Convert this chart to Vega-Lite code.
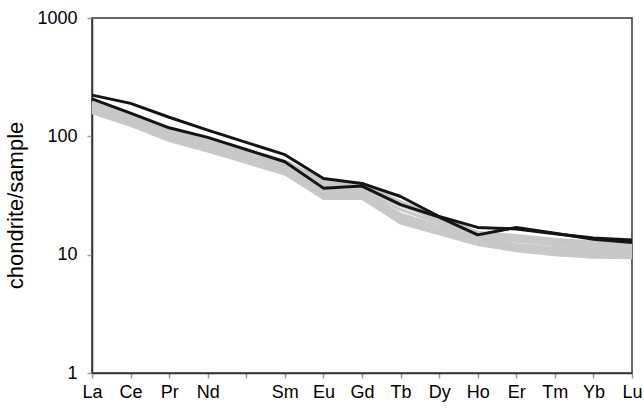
{
  "$schema": "https://vega.github.io/schema/vega-lite/v6.json",
  "width": 540,
  "height": 355,
  "autosize": {"type": "none"},
  "padding": {"left": 92, "top": 18, "right": 12, "bottom": 35},
  "config": {
    "view": {"stroke": "#333333", "strokeWidth": 1.5},
    "font": "Liberation Sans",
    "axis": {"labelFont": "Liberation Sans", "titleFont": "Liberation Sans", "labelColor": "#000000", "titleColor": "#000000", "grid": false, "domainColor": "#333333", "domainWidth": 1.5, "tickColor": "#999999", "tickWidth": 1.5}
  },
  "data": {"values": [
    {"s":"B1","el":"La","v":223},{"s":"B1","el":"Ce","v":190},{"s":"B1","el":"Pr","v":145},{"s":"B1","el":"Nd","v":113},{"s":"B1","el":"Sm","v":70},{"s":"B1","el":"Eu","v":44},{"s":"B1","el":"Gd","v":40},{"s":"B1","el":"Tb","v":31},{"s":"B1","el":"Dy","v":21},{"s":"B1","el":"Ho","v":17},{"s":"B1","el":"Er","v":16.5},{"s":"B1","el":"Tm","v":15},{"s":"B1","el":"Yb","v":13.8},{"s":"B1","el":"Lu","v":13.3},
    {"s":"B2","el":"La","v":207},{"s":"B2","el":"Ce","v":157},{"s":"B2","el":"Pr","v":118},{"s":"B2","el":"Nd","v":98},{"s":"B2","el":"Sm","v":61},{"s":"B2","el":"Eu","v":36.5},{"s":"B2","el":"Gd","v":38},{"s":"B2","el":"Tb","v":26.5},{"s":"B2","el":"Dy","v":20.8},{"s":"B2","el":"Ho","v":14.7},{"s":"B2","el":"Er","v":17},{"s":"B2","el":"Tm","v":15.2},{"s":"B2","el":"Yb","v":13.5},{"s":"B2","el":"Lu","v":12.7},
    {"s":"G1","el":"La","v":195},{"s":"G1","el":"Ce","v":152},{"s":"G1","el":"Pr","v":115},{"s":"G1","el":"Nd","v":95},{"s":"G1","el":"Sm","v":62},{"s":"G1","el":"Eu","v":42},{"s":"G1","el":"Gd","v":40},{"s":"G1","el":"Tb","v":28},{"s":"G1","el":"Dy","v":21},{"s":"G1","el":"Ho","v":15.5},{"s":"G1","el":"Er","v":14.5},{"s":"G1","el":"Tm","v":13.5},{"s":"G1","el":"Yb","v":12.8},{"s":"G1","el":"Lu","v":12.2},
    {"s":"G2","el":"La","v":188},{"s":"G2","el":"Ce","v":148},{"s":"G2","el":"Pr","v":110},{"s":"G2","el":"Nd","v":90},{"s":"G2","el":"Sm","v":58},{"s":"G2","el":"Eu","v":38},{"s":"G2","el":"Gd","v":37},{"s":"G2","el":"Tb","v":26},{"s":"G2","el":"Dy","v":20},{"s":"G2","el":"Ho","v":15},{"s":"G2","el":"Er","v":14},{"s":"G2","el":"Tm","v":13},{"s":"G2","el":"Yb","v":12.3},{"s":"G2","el":"Lu","v":11.8},
    {"s":"G3","el":"La","v":182},{"s":"G3","el":"Ce","v":143},{"s":"G3","el":"Pr","v":107},{"s":"G3","el":"Nd","v":87},{"s":"G3","el":"Sm","v":56},{"s":"G3","el":"Eu","v":35},{"s":"G3","el":"Gd","v":35},{"s":"G3","el":"Tb","v":24},{"s":"G3","el":"Dy","v":18.5},{"s":"G3","el":"Ho","v":14},{"s":"G3","el":"Er","v":13},{"s":"G3","el":"Tm","v":12.2},{"s":"G3","el":"Yb","v":11.5},{"s":"G3","el":"Lu","v":11.2},
    {"s":"G4","el":"La","v":178},{"s":"G4","el":"Ce","v":140},{"s":"G4","el":"Pr","v":104},{"s":"G4","el":"Nd","v":85},{"s":"G4","el":"Sm","v":55},{"s":"G4","el":"Eu","v":33},{"s":"G4","el":"Gd","v":34},{"s":"G4","el":"Tb","v":22},{"s":"G4","el":"Dy","v":17.5},{"s":"G4","el":"Ho","v":13.5},{"s":"G4","el":"Er","v":12.2},{"s":"G4","el":"Tm","v":11.5},{"s":"G4","el":"Yb","v":11},{"s":"G4","el":"Lu","v":10.8},
    {"s":"G5","el":"La","v":172},{"s":"G5","el":"Ce","v":135},{"s":"G5","el":"Pr","v":100},{"s":"G5","el":"Nd","v":82},{"s":"G5","el":"Sm","v":53},{"s":"G5","el":"Eu","v":32},{"s":"G5","el":"Gd","v":33},{"s":"G5","el":"Tb","v":21},{"s":"G5","el":"Dy","v":16.5},{"s":"G5","el":"Ho","v":13},{"s":"G5","el":"Er","v":11.8},{"s":"G5","el":"Tm","v":11},{"s":"G5","el":"Yb","v":10.6},{"s":"G5","el":"Lu","v":10.4},
    {"s":"G6","el":"La","v":168},{"s":"G6","el":"Ce","v":132},{"s":"G6","el":"Pr","v":98},{"s":"G6","el":"Nd","v":80},{"s":"G6","el":"Sm","v":52},{"s":"G6","el":"Eu","v":31},{"s":"G6","el":"Gd","v":31},{"s":"G6","el":"Tb","v":20},{"s":"G6","el":"Dy","v":16},{"s":"G6","el":"Ho","v":12.8},{"s":"G6","el":"Er","v":11.3},{"s":"G6","el":"Tm","v":10.5},{"s":"G6","el":"Yb","v":10.2},{"s":"G6","el":"Lu","v":10},
    {"s":"G7","el":"La","v":163},{"s":"G7","el":"Ce","v":128},{"s":"G7","el":"Pr","v":95},{"s":"G7","el":"Nd","v":77},{"s":"G7","el":"Sm","v":50},{"s":"G7","el":"Eu","v":30},{"s":"G7","el":"Gd","v":30},{"s":"G7","el":"Tb","v":19},{"s":"G7","el":"Dy","v":15.5},{"s":"G7","el":"Ho","v":12.5},{"s":"G7","el":"Er","v":11},{"s":"G7","el":"Tm","v":10.2},{"s":"G7","el":"Yb","v":9.8},{"s":"G7","el":"Lu","v":9.7},
    {"s":"G8","el":"La","v":158},{"s":"G8","el":"Ce","v":124},{"s":"G8","el":"Pr","v":92},{"s":"G8","el":"Nd","v":75},{"s":"G8","el":"Sm","v":48},{"s":"G8","el":"Eu","v":30},{"s":"G8","el":"Gd","v":30},{"s":"G8","el":"Tb","v":18.5},{"s":"G8","el":"Dy","v":15},{"s":"G8","el":"Ho","v":12.2},{"s":"G8","el":"Er","v":10.8},{"s":"G8","el":"Tm","v":10},{"s":"G8","el":"Yb","v":9.5},{"s":"G8","el":"Lu","v":9.4},
    {"s":"G9","el":"La","v":185},{"s":"G9","el":"Ce","v":145},{"s":"G9","el":"Pr","v":110},{"s":"G9","el":"Nd","v":90},{"s":"G9","el":"Sm","v":60},{"s":"G9","el":"Eu","v":40},{"s":"G9","el":"Gd","v":38},{"s":"G9","el":"Tb","v":27},{"s":"G9","el":"Dy","v":19},{"s":"G9","el":"Ho","v":14.5},{"s":"G9","el":"Er","v":13.5},{"s":"G9","el":"Tm","v":12.5},{"s":"G9","el":"Yb","v":12},{"s":"G9","el":"Lu","v":11.5}
  ]},
  "encoding": {
    "x": {
      "field": "el", "type": "ordinal",
      "scale": {"type": "point", "padding": 0, "domain": ["La","Ce","Pr","Nd","Pm","Sm","Eu","Gd","Tb","Dy","Ho","Er","Tm","Yb","Lu"]},
      "axis": {"title": null, "labelAngle": 0, "labelFontSize": 18, "labelPadding": 5, "tickSize": 5, "labelExpr": "datum.value == 'Pm' ? '' : datum.value"}
    },
    "y": {
      "field": "v", "type": "quantitative",
      "scale": {"type": "log", "domain": [1, 1000], "nice": false},
      "axis": {"title": "chondrite/sample", "titleFontSize": 22, "titleFontWeight": "normal", "titlePadding": 9, "titleY": 187, "labelFontSize": 18, "labelPadding": 10, "tickSize": 5, "values": [1, 10, 100, 1000], "format": "d"}
    },
    "detail": {"field": "s"}
  },
  "layer": [
    {
      "transform": [{"filter": "indexof(datum.s, 'G') == 0"}],
      "mark": {"type": "line", "color": "#c8c8c8", "strokeWidth": 3, "strokeJoin": "round"}
    },
    {
      "transform": [{"filter": "indexof(datum.s, 'B') == 0"}],
      "mark": {"type": "line", "color": "#141414", "strokeWidth": 3, "strokeJoin": "round"}
    }
  ]
}
